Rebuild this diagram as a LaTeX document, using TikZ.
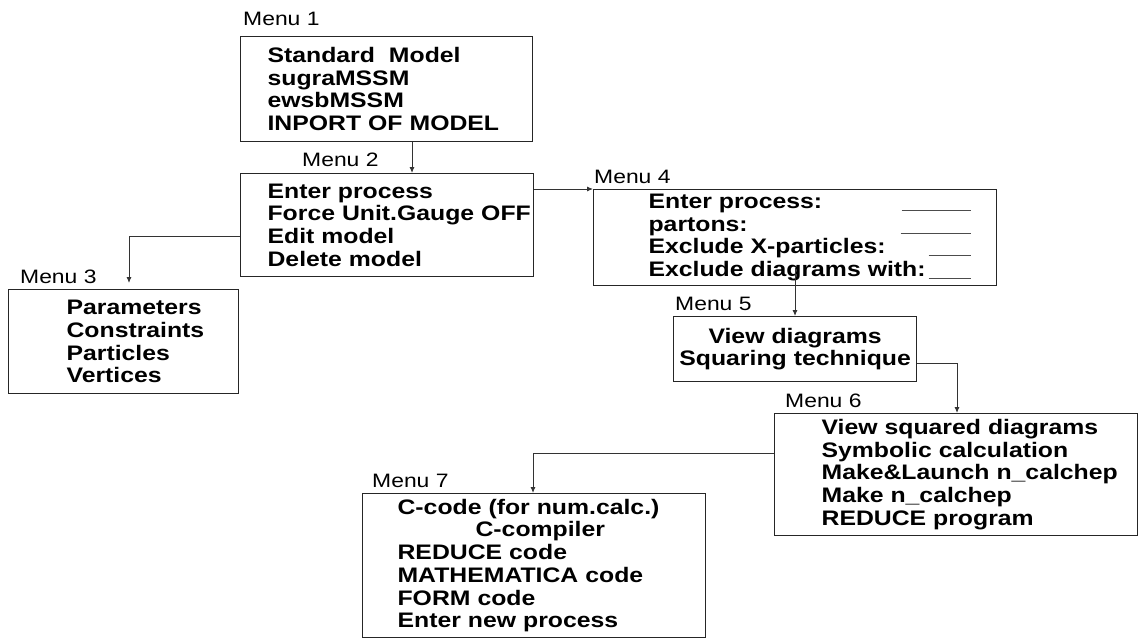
\documentclass[tikz,border=0pt]{standalone}
\usepackage{fontspec}
\setmainfont{Liberation Sans}[FakeStretch=1.18]
\usetikzlibrary{arrows.meta}
\newcommand{\blank}[1]{\hfill\textcolor{black!70}{\rule[-2.5pt]{#1}{1pt}}\hspace*{26pt}\mbox{}}
\tikzset{
  menubox/.style={draw=black!85, line width=1.2pt, anchor=north west, inner sep=0pt,
    align=left, font=\bfseries\fontsize{21}{22.7}\selectfont},
  menuindent/.style={execute at begin node={\leftskip=#1\relax}},
  menulabel/.style={anchor=base west, inner sep=0pt, font=\fontsize{19.4}{20}\selectfont},
  link/.style={draw=black!80, line width=0.9pt, -{Latex[length=6pt,width=5pt]}}
}
\begin{document}
\begin{tikzpicture}[x=1pt, y=-1pt]
  \useasboundingbox (0,0) rectangle (1140,640);
  % menu boxes
  \node[menubox, menuindent=27pt, text width=292pt, minimum height=105pt] (m1) at (240,36)
    {Standard\ \ Model\\ sugraMSSM\\ ewsbMSSM\\ INPORT OF MODEL};
  \node[menubox, menuindent=27pt, text width=293pt, minimum height=103pt] (m2) at (240,173)
    {Enter process\\ Force Unit.Gauge OFF\\ Edit model\\ Delete model};
  \node[menubox, menuindent=58pt, text width=230pt, minimum height=104pt] (m3) at (8,289)
    {Parameters\\ Constraints\\ Particles\\ Vertices};
  \node[menubox, menuindent=55pt, text width=403pt, minimum height=96pt] (m4) at (593,189)
    {Enter process:\blank{69pt}\\ partons:\blank{70pt}\\
     Exclude X-particles:\blank{42pt}\\ Exclude diagrams with:\blank{42pt}};
  \node[menubox, align=center, text width=243pt, minimum height=65pt] (m5) at (673,316)
    {View diagrams\\ Squaring technique};
  \node[menubox, menuindent=47pt, text width=363pt, minimum height=122pt] (m6) at (774,413)
    {View squared diagrams\\ Symbolic calculation\\ Make\&Launch n\_calchep\\
     Make n\_calchep\\ REDUCE program};
  \node[menubox, menuindent=35pt, text width=343pt, minimum height=144pt] (m7) at (362,493)
    {C-code (for num.calc.)\\ \hspace*{78pt}C-compiler\\ REDUCE code\\
     MATHEMATICA code\\ FORM code\\ Enter new process};
  % menu names
  \node[menulabel] (l1) at (243,25) {Menu 1};
  \node[menulabel] (l2) at (302,166) {Menu 2};
  \node[menulabel] (l3) at (20,283) {Menu 3};
  \node[menulabel] (l4) at (594,183) {Menu 4};
  \node[menulabel] (l5) at (675,310) {Menu 5};
  \node[menulabel] (l6) at (785,407) {Menu 6};
  \node[menulabel] (l7) at (372,487) {Menu 7};
  % links
  \coordinate (c12) at (412,0);
  \draw[link] (m1.south -| c12) -- (m2.north -| c12);
  \draw[link] (m2.east |- m4.north west) -- (m4.north west);
  \coordinate (c23) at (129,236);
  \draw[link, shorten >=6pt] (m2.west |- c23) -- (c23) -- (c23 |- m3.north);
  \coordinate (c45) at (795,268);
  \draw[link] (c45) -- (c45 |- m5.north);
  \coordinate (c56) at (957,363);
  \draw[link] (m5.east |- c56) -- (c56) -- (c56 |- m6.north);
  \coordinate (c67) at (533,453);
  \draw[link] (m6.west |- c67) -- (c67) -- (c67 |- m7.north);
\end{tikzpicture}
\end{document}
